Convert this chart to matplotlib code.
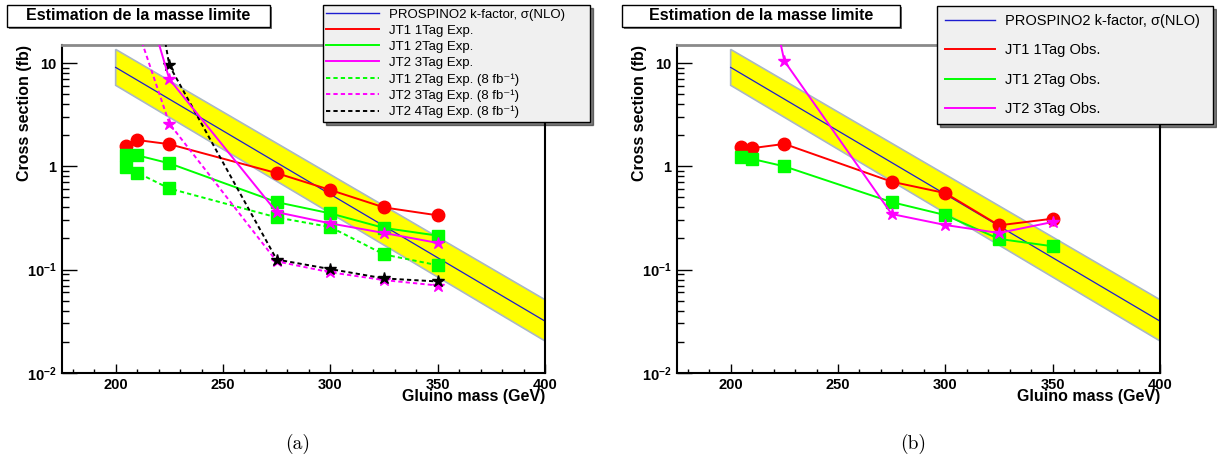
import matplotlib
matplotlib.use('Agg')
import matplotlib.pyplot as plt
from matplotlib.lines import Line2D
from matplotlib.patches import Rectangle
from matplotlib.ticker import MultipleLocator, LogLocator, NullFormatter

plt.rcParams['font.family'] = ['Liberation Sans', 'DejaVu Sans']
plt.rcParams['mathtext.fontset'] = 'custom'
plt.rcParams['mathtext.rm'] = 'Liberation Sans'
plt.rcParams['mathtext.bf'] = 'Liberation Sans:bold'
plt.rcParams['mathtext.it'] = 'Liberation Sans:italic'

W, H = 1217, 461

# PROSPINO2 NLO band
band_mass = [200, 400]
xsec_nlo = [9.1, 0.0316]
xsec_up = [13.6, 0.051]
xsec_dn = [6.1, 0.0203]

mass = [205, 210, 225, 275, 300, 325, 350]
mass_jt2 = [210, 225, 275, 300, 325, 350]

# (a) expected limits
jt1_1tag_exp = [1.58, 1.80, 1.64, 0.86, 0.59, 0.40, 0.335]
jt1_2tag_exp = [1.28, 1.28, 1.07, 0.45, 0.35, 0.253, 0.213]
jt2_3tag_exp = [80, 7.0, 0.36, 0.28, 0.226, 0.181]
jt1_2tag_exp8 = [0.99, 0.87, 0.61, 0.32, 0.258, 0.14, 0.110]
jt2_3tag_exp8 = [22, 2.6, 0.12, 0.094, 0.079, 0.070]
jt2_4tag_exp8 = [600, 9.5, 0.125, 0.101, 0.082, 0.0766]

# (b) observed limits
jt1_1tag_obs = [1.53, 1.50, 1.65, 0.71, 0.55, 0.268, 0.311]
jt1_2tag_obs = [1.24, 1.18, 1.0, 0.45, 0.337, 0.198, 0.168]
jt2_3tag_obs = [300, 10.5, 0.345, 0.27, 0.226, 0.289]

labels_a = ['PROSPINO2 k-factor, \u03c3(NLO)', 'JT1 1Tag Exp.', 'JT1 2Tag Exp.', 'JT2 3Tag Exp.',
            'JT1 2Tag Exp. (8 fb\u207b\u00b9)', 'JT2 3Tag Exp. (8 fb\u207b\u00b9)',
            'JT2 4Tag Exp. (8 fb\u207b\u00b9)']
labels_b = ['PROSPINO2 k-factor, \u03c3(NLO)', 'JT1 1Tag Obs.', 'JT1 2Tag Obs.', 'JT2 3Tag Obs.']

RED, GREEN, MAG, BLUE = '#ff0000', '#00ff00', '#ff00ff', '#1c1cd0'
DASH = (2.2, 1.6)


def draw_panel(ax, series):
    ax.fill(band_mass + band_mass[::-1], xsec_up + xsec_dn[::-1],
            facecolor='#ffff00', edgecolor='#a9b7c6', lw=1.2, zorder=1)
    ax.plot(band_mass, xsec_nlo, color=BLUE, lw=0.9, zorder=2)
    for x, y, color, dashed, marker, ms in series:
        line, = ax.plot(x, y, color=color, lw=1.4, marker=marker, ms=ms,
                        mec=color, mfc=color, zorder=3)
        if dashed:
            line.set_dashes(DASH)

    ax.set_yscale('log')
    ax.set_xlim(175, 400)
    ax.set_ylim(0.01, 15)
    ax.xaxis.set_major_locator(MultipleLocator(50))
    ax.xaxis.set_minor_locator(MultipleLocator(10))
    ax.set_yticks([0.01, 0.1, 1, 10])
    ax.set_yticklabels(['10$^{\\mathbf{-2}}$', '10$^{\\mathbf{-1}}$', '1', '10'])
    ax.yaxis.set_minor_locator(LogLocator(base=10, subs=range(2, 10)))
    ax.yaxis.set_minor_formatter(NullFormatter())
    ax.tick_params(which='both', direction='in', top=False, right=False, width=1)
    ax.tick_params(axis='x', which='major', length=6.5, pad=3.5)
    ax.tick_params(axis='x', which='minor', length=3.2)
    ax.tick_params(axis='y', which='major', length=10.5, pad=4)
    ax.tick_params(axis='y', which='minor', length=5)
    for lab in ax.get_xticklabels() + ax.get_yticklabels():
        lab.set_fontweight('bold')
        lab.set_fontsize(10.5)

    for s in ['left', 'bottom', 'right']:
        ax.spines[s].set_linewidth(1.5)
        ax.spines[s].set_color('black')
    ax.spines['top'].set_linewidth(2)
    ax.spines['top'].set_color('#8a8a8a')

    ax.set_ylabel('Cross section (fb)', fontsize=11.5, fontweight='bold', loc='top')
    ax.yaxis.label.set_verticalalignment('center')
    ax.yaxis.set_label_coords(-0.078, 1.0)
    ax.set_xlabel('Gluino mass (GeV)', fontsize=11.5, fontweight='bold', loc='right')
    ax.xaxis.label.set_verticalalignment('center')
    ax.xaxis.set_label_coords(1.0, -0.074)


def title_box(fig, x0, x1, y0, y1, text):
    fig.add_artist(Rectangle(((x0 + 2) / W, 1 - (y1 + 2) / H), (x1 - x0) / W, (y1 - y0) / H,
                             transform=fig.transFigure, fc='#707070', ec='none'))
    fig.add_artist(Rectangle((x0 / W, 1 - y1 / H), (x1 - x0) / W, (y1 - y0) / H,
                             transform=fig.transFigure, fc='white', ec='black', lw=1))
    fig.text((x0 + x1) / 2 / W, 1 - (y0 + y1) / 2 / H, text, fontsize=11.5,
             fontweight='bold', ha='center', va='center')


def legend_handles(specs):
    hs = []
    for color, dashed, lw in specs:
        h = Line2D([], [], color=color, lw=lw)
        if dashed:
            h.set_dashes(DASH)
        hs.append(h)
    return hs


fig = plt.figure(figsize=(W / 100, H / 100), dpi=100)
ax1 = fig.add_axes([62 / W, 1 - 372.7 / H, 483 / W, 327.7 / H])
ax2 = fig.add_axes([677 / W, 1 - 372.7 / H, 483 / W, 327.7 / H])

draw_panel(ax1, [
    (mass, jt1_1tag_exp, RED, False, 'o', 9),
    (mass, jt1_2tag_exp, GREEN, False, 's', 9),
    (mass, jt1_2tag_exp8, GREEN, True, 's', 9),
    (mass_jt2, jt2_3tag_exp8, MAG, True, '*', 9),
    (mass_jt2, jt2_4tag_exp8, 'black', True, '*', 9),
    (mass_jt2, jt2_3tag_exp, MAG, False, '*', 9),
])
draw_panel(ax2, [
    (mass, jt1_1tag_obs, RED, False, 'o', 9),
    (mass, jt1_2tag_obs, GREEN, False, 's', 9),
    (mass_jt2, jt2_3tag_obs, MAG, False, '*', 9),
])

h_a = legend_handles([(BLUE, False, 1.0), (RED, False, 1.4), (GREEN, False, 1.4), (MAG, False, 1.4),
                      (GREEN, True, 1.4), (MAG, True, 1.4), ('black', True, 1.4)])
leg1 = ax1.legend(h_a, labels_a, loc='upper left',
                  bbox_to_anchor=(323 / W, 1 - 123 / H, 267 / W, 118 / H), mode='expand',
                  bbox_transform=fig.transFigure, borderaxespad=0, fancybox=False,
                  facecolor='#f0f0f0', edgecolor='black', framealpha=1,
                  shadow={'color': 'black'}, fontsize=9.5, handlelength=4.0,
                  handletextpad=0.75, labelspacing=0.3, borderpad=0.25)
leg1.get_frame().set_linewidth(1.0)
leg1.set_zorder(10)

h_b = legend_handles([(BLUE, False, 1.0), (RED, False, 1.4), (GREEN, False, 1.4), (MAG, False, 1.4)])
leg2 = ax2.legend(h_b, labels_b, loc='upper left',
                  bbox_to_anchor=(937 / W, 1 - 122 / H, 276 / W, 116 / H), mode='expand',
                  bbox_transform=fig.transFigure, borderaxespad=0, fancybox=False,
                  facecolor='#f0f0f0', edgecolor='black', framealpha=1,
                  shadow={'color': 'black'}, fontsize=10.5, handlelength=3.4,
                  handletextpad=0.7, labelspacing=1.05, borderpad=0.55)
leg2.get_frame().set_linewidth(1.0)
leg2.set_zorder(10)

title_box(fig, 7, 270, 5, 27, 'Estimation de la masse limite')
title_box(fig, 622, 900, 5, 27, 'Estimation de la masse limite')

fig.text(298 / W, 1 - 444 / H, '(a)', family='cmr10', fontsize=14, ha='center', va='center')
fig.text(913 / W, 1 - 444 / H, '(b)', family='cmr10', fontsize=14, ha='center', va='center')

fig.savefig('out.png', dpi=100)
